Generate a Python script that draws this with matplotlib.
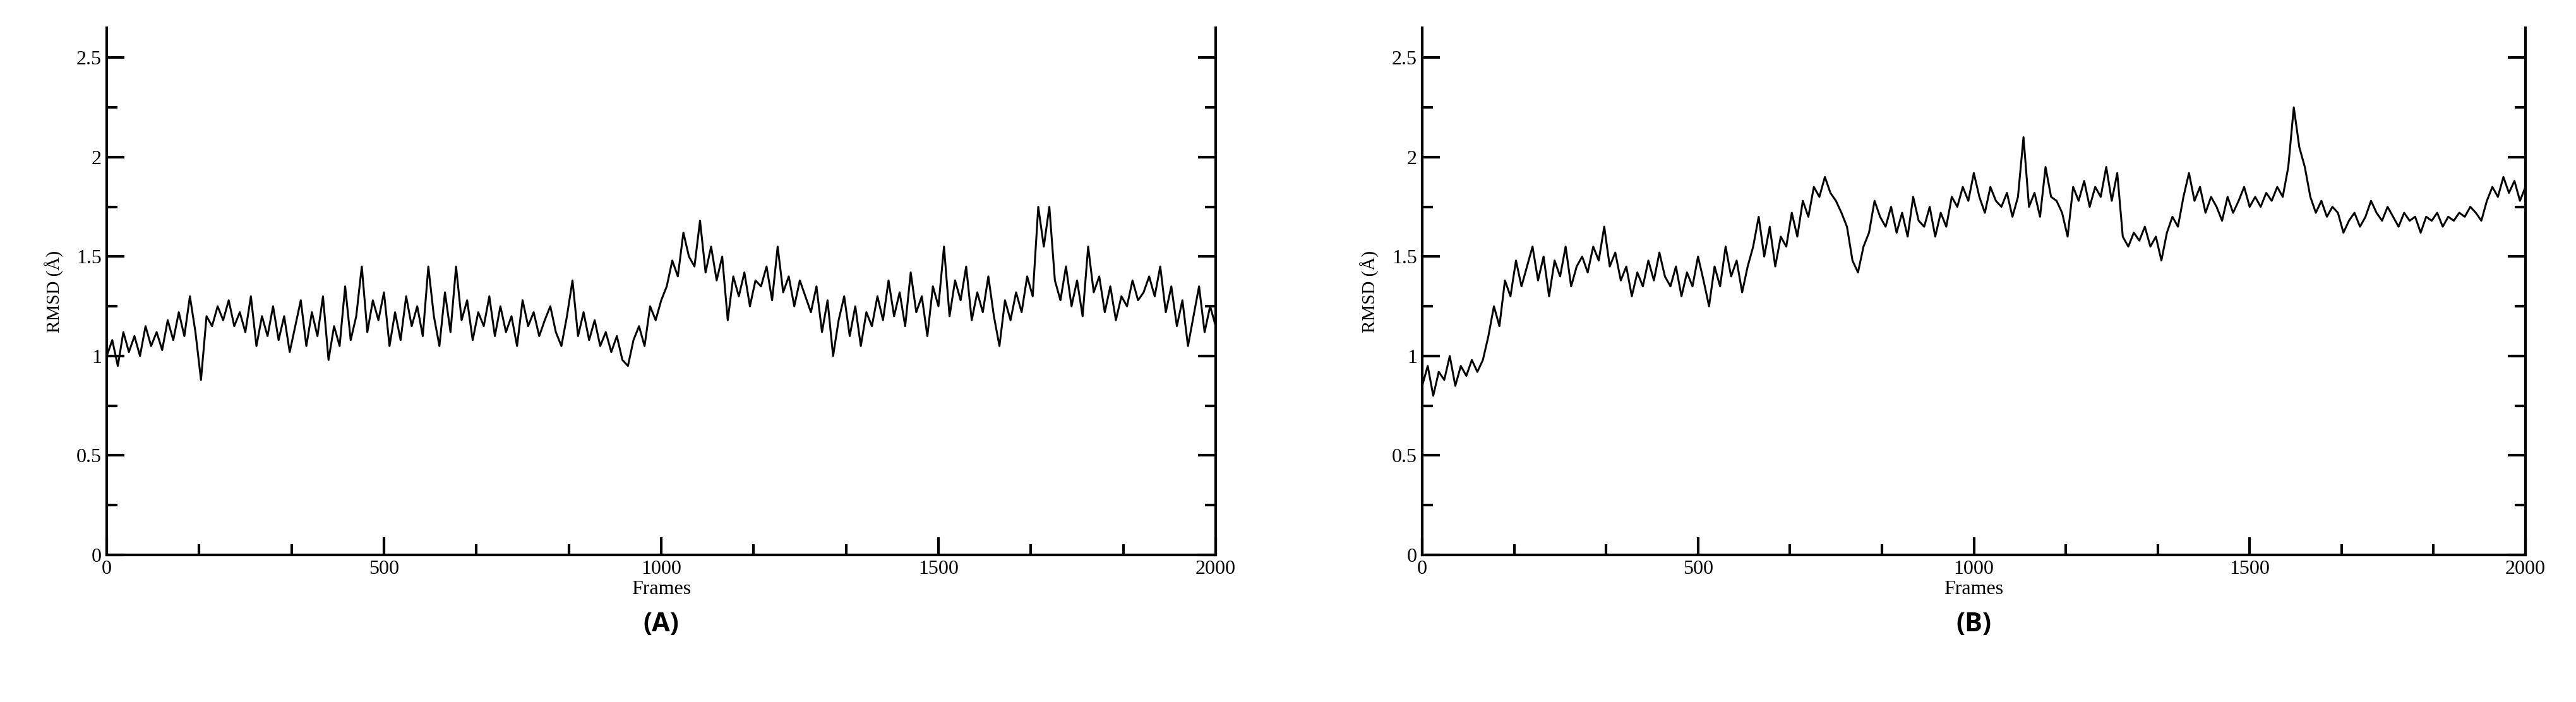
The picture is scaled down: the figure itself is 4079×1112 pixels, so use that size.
import matplotlib
matplotlib.use("Agg")
import matplotlib.pyplot as plt
import numpy as np
from matplotlib.ticker import MultipleLocator

frames = np.arange(0, 2001, 10)
rmsd_a = [1.00,1.08,0.95,1.12,1.02,1.10,1.00,1.15,1.05,1.12,1.03,
1.18,1.08,1.22,1.10,1.30,1.12,0.88,1.20,1.15,1.25,
1.18,1.28,1.15,1.22,1.12,1.30,1.05,1.20,1.10,1.25,
1.08,1.20,1.02,1.15,1.28,1.05,1.22,1.10,1.30,0.98,
1.15,1.05,1.35,1.08,1.20,1.45,1.12,1.28,1.18,1.32,
1.05,1.22,1.08,1.30,1.15,1.25,1.10,1.45,1.20,1.05,
1.32,1.12,1.45,1.18,1.28,1.08,1.22,1.15,1.30,1.10,
1.25,1.12,1.20,1.05,1.28,1.15,1.22,1.10,1.18,1.25,
1.12,1.05,1.20,1.38,1.10,1.22,1.08,1.18,1.05,1.12,
1.02,1.10,0.98,0.95,1.08,1.15,1.05,1.25,1.18,1.28,
1.35,1.48,1.40,1.62,1.50,1.45,1.68,1.42,1.55,1.38,
1.50,1.18,1.40,1.30,1.42,1.25,1.38,1.35,1.45,1.28,
1.55,1.32,1.40,1.25,1.38,1.30,1.22,1.35,1.12,1.28,
1.00,1.18,1.30,1.10,1.25,1.05,1.22,1.15,1.30,1.18,
1.38,1.20,1.32,1.15,1.42,1.22,1.30,1.10,1.35,1.25,
1.55,1.20,1.38,1.28,1.45,1.18,1.32,1.22,1.40,1.20,
1.05,1.28,1.18,1.32,1.22,1.40,1.30,1.75,1.55,1.75,
1.38,1.28,1.45,1.25,1.38,1.20,1.55,1.32,1.40,1.22,
1.35,1.18,1.30,1.25,1.38,1.28,1.32,1.40,1.30,1.45,
1.22,1.35,1.15,1.28,1.05,1.20,1.35,1.12,1.25,1.15]
rmsd_b = [0.85,0.95,0.80,0.92,0.88,1.00,0.85,0.95,0.90,0.98,0.92,
0.98,1.10,1.25,1.15,1.38,1.30,1.48,1.35,1.45,1.55,
1.38,1.50,1.30,1.48,1.40,1.55,1.35,1.45,1.50,1.42,
1.55,1.48,1.65,1.45,1.52,1.38,1.45,1.30,1.42,1.35,
1.48,1.38,1.52,1.40,1.35,1.45,1.30,1.42,1.35,1.50,
1.38,1.25,1.45,1.35,1.55,1.40,1.48,1.32,1.45,1.55,
1.70,1.50,1.65,1.45,1.60,1.55,1.72,1.60,1.78,1.70,
1.85,1.80,1.90,1.82,1.78,1.72,1.65,1.48,1.42,1.55,
1.62,1.78,1.70,1.65,1.75,1.62,1.72,1.60,1.80,1.68,
1.65,1.75,1.60,1.72,1.65,1.80,1.75,1.85,1.78,1.92,
1.80,1.72,1.85,1.78,1.75,1.82,1.70,1.80,2.10,1.75,
1.82,1.70,1.95,1.80,1.78,1.72,1.60,1.85,1.78,1.88,
1.75,1.85,1.80,1.95,1.78,1.92,1.60,1.55,1.62,1.58,
1.65,1.55,1.60,1.48,1.62,1.70,1.65,1.80,1.92,1.78,
1.85,1.72,1.80,1.75,1.68,1.80,1.72,1.78,1.85,1.75,
1.80,1.75,1.82,1.78,1.85,1.80,1.95,2.25,2.05,1.95,
1.80,1.72,1.78,1.70,1.75,1.72,1.62,1.68,1.72,1.65,
1.70,1.78,1.72,1.68,1.75,1.70,1.65,1.72,1.68,1.70,
1.62,1.70,1.68,1.72,1.65,1.70,1.68,1.72,1.70,1.75,
1.72,1.68,1.78,1.85,1.80,1.90,1.82,1.88,1.78,1.85]
panel_labels = ["(A)", "(B)"]

W, H = 4079, 1112
fig = plt.figure(figsize=(W/100, H/100), dpi=100)
serif = "Liberation Serif"
boxes = [(169, 44, 1925, 879), (2252, 44, 3999, 879)]
for (x0, y0, x1, y1), data, lab in zip(boxes, [rmsd_a, rmsd_b], panel_labels):
    ax = fig.add_axes([x0/W, 1 - y1/H, (x1-x0)/W, (y1-y0)/H])
    ax.plot(frames, data, color="black", lw=2.2)
    ax.set_xlim(0, 2000)
    ax.set_ylim(0, 2.65)
    ax.xaxis.set_major_locator(MultipleLocator(500))
    ax.xaxis.set_minor_locator(MultipleLocator(500/3))
    ax.yaxis.set_minor_locator(MultipleLocator(0.25))
    ax.set_yticks([0, 0.5, 1, 1.5, 2, 2.5])
    ax.set_yticklabels(["0", "0.5", "1", "1.5", "2", "2.5"])
    ax.tick_params(which="both", direction="in", right=True, top=False, width=3,
                   labelsize=23, pad=6)
    ax.tick_params(which="major", length=20)
    ax.tick_params(which="minor", length=12)
    for lbl in ax.get_xticklabels() + ax.get_yticklabels():
        lbl.set_family(serif)
    for s in ax.spines.values():
        s.set_linewidth(3)
    ax.spines["top"].set_visible(False)
    ax.set_xlabel("Frames", family=serif, fontsize=23, labelpad=2)
    ax.set_ylabel("RMSD (Å)", family=serif, fontsize=21, labelpad=14)
    fig.text((x0+x1)/2/W, 1 - 990/H, lab, ha="center", va="center",
             fontsize=30, fontweight="bold", family="Open Sans")
fig.savefig("out.png", dpi=100)
